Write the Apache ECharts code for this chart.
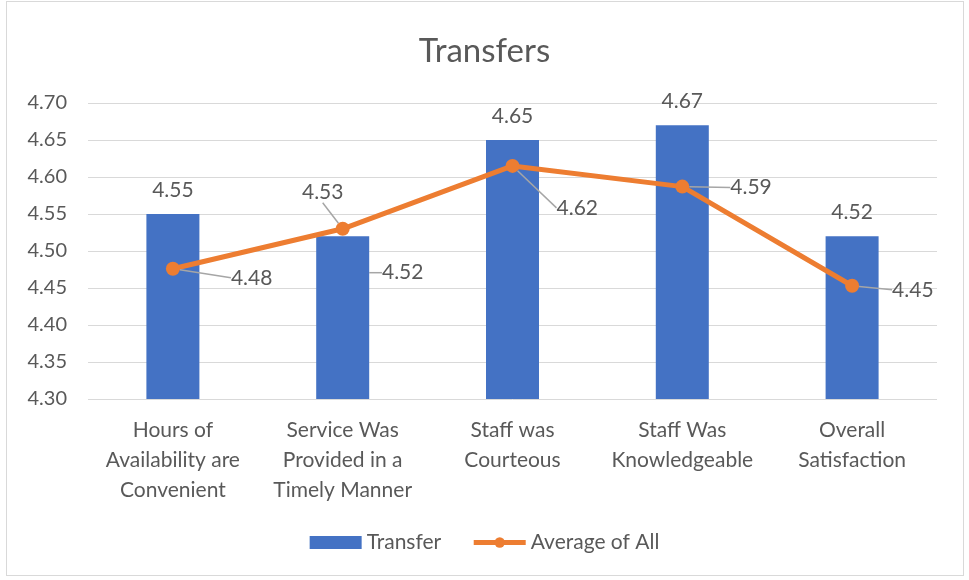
<!DOCTYPE html>
<html>
<head>
<meta charset="utf-8">
<script src="https://cdn.jsdelivr.net/npm/echarts@6/dist/echarts.min.js"></script>
<style>
  html, body { margin: 0; padding: 0; background: #fff; }
  .frame {
    position: absolute; left: 6px; top: 1px; width: 958px; height: 575px;
    border: 1px solid #d9d9d9; box-sizing: border-box;
  }
  #chart { position: absolute; left: 0; top: 0; width: 969px; height: 580px; }
</style>
</head>
<body>
<div class="frame"></div>
<div id="chart"></div>
<script>
const categories = [
  'Hours of\nAvailability are\nConvenient',
  'Service Was\nProvided in a\nTimely Manner',
  'Staff was\nCourteous',
  'Staff Was\nKnowledgeable',
  'Overall\nSatisfaction',
]
const transferValues = [4.55, 4.52, 4.65, 4.67, 4.52]
const averageValues = [4.476, 4.53, 4.615, 4.587, 4.453]

// label offsets (moved labels, like in the original)
const barLabelShift = [[0, 0], [60, 60], [0, 0], [0, 0], [0, 0]]
const lineLabelShift = [[46, 9], [-20, -14], [32, 42], [36, 1], [28, 4]]
const linePos = ['right', 'top', 'right', 'right', 'right']

const font = 'Lato, "Open Sans", sans-serif'
const textColor = '#595959'
const guide = { color: '#a6a6a6', width: 1.5 }

const chart = echarts.init(document.getElementById('chart'))

const option = {
  animation: false,
  title: {
    text: 'Transfers',
    left: 'center',
    top: 30,
    textStyle: { fontFamily: font, fontSize: 33, fontWeight: 'normal', color: textColor },
  },
  grid: { left: 88, right: 32, top: 103, bottom: 181 },
  legend: {
    bottom: 22,
    left: 'center',
    itemWidth: 52,
    itemHeight: 13,
    itemGap: 30,
    textStyle: { fontFamily: font, fontSize: 21, color: textColor },
    data: [
      { name: 'Transfer', icon: 'rect' },
      { name: 'Average of All', lineStyle: { width: 5 } },
    ],
  },
  xAxis: {
    type: 'category',
    data: categories,
    axisLine: { show: false },
    axisTick: { show: false },
    axisLabel: {
      fontFamily: font,
      fontSize: 21,
      color: textColor,
      lineHeight: 30,
      margin: 16,
      interval: 0,
    },
  },
  yAxis: {
    type: 'value',
    min: 4.3,
    max: 4.7,
    interval: 0.05,
    axisLine: { show: false },
    axisTick: { show: false },
    splitLine: { lineStyle: { color: '#d9d9d9', width: 1 } },
    axisLabel: {
      fontFamily: font,
      fontSize: 20,
      color: textColor,
      margin: 21,
      formatter: (v) => v.toFixed(2),
    },
  },
  series: [
    {
      name: 'Transfer',
      type: 'bar',
      data: transferValues.map((v, i) => ({
        value: v,
        labelLine: { show: barLabelShift[i][0] !== 0 || barLabelShift[i][1] !== 0 },
      })),
      barWidth: 53,
      itemStyle: { color: '#4472c4' },
      label: {
        show: true,
        position: 'top',
        distance: 13,
        fontFamily: font,
        fontSize: 21,
        color: textColor,
        formatter: (p) => p.value.toFixed(2),
      },
      labelLine: { lineStyle: guide },
      labelLayout: (p) => ({ dx: barLabelShift[p.dataIndex][0], dy: barLabelShift[p.dataIndex][1] }),
      z: 2,
    },
    {
      name: 'Average of All',
      type: 'line',
      data: averageValues.map((v, i) => ({
        value: v,
        label: { position: linePos[i] },
      })),
      symbol: 'circle',
      symbolSize: 14,
      lineStyle: { color: '#ed7d31', width: 5 },
      itemStyle: { color: '#ed7d31' },
      label: {
        show: true,
        distance: 5,
        fontFamily: font,
        fontSize: 21,
        color: textColor,
        formatter: (p) => p.value.toFixed(2),
      },
      labelLine: { show: true, lineStyle: guide },
      labelLayout: (p) => ({ dx: lineLabelShift[p.dataIndex][0], dy: lineLabelShift[p.dataIndex][1] }),
      z: 3,
    },
  ],
}

chart.setOption(option)

window.addEventListener('resize', function () {
  chart.resize()
})
</script>
</body>
</html>
